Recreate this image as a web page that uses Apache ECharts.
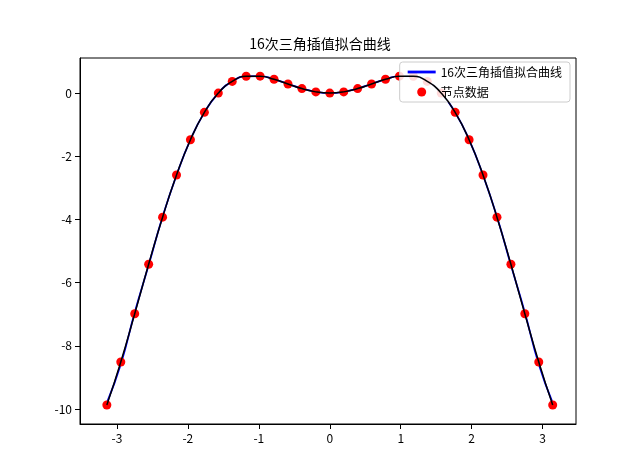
<!DOCTYPE html><html><head><meta charset="utf-8"><script src="https://cdn.jsdelivr.net/npm/echarts@6/dist/echarts.min.js"></script></head><body style="margin:0"><div id="c" style="width:640px;height:476px"></div><script>
const xs=[-3.1416,-2.9452,-2.7489,-2.5525,-2.3562,-2.1598,-1.9635,-1.7671,-1.5708,-1.3744,-1.1781,-0.9817,-0.7854,-0.5890,-0.3927,-0.1963,0,0.1963,0.3927,0.5890,0.7854,0.9817,1.1781,1.3744,1.5708,1.7671,1.9635,2.1598,2.3562,2.5525,2.7489,2.9452,3.1416];
const nodeY=[-9.870,-8.507,-6.981,-5.417,-3.926,-2.592,-1.475,-0.609,0,0.369,0.531,0.535,0.436,0.289,0.142,0.038,0,0.038,0.142,0.289,0.436,0.535,0.531,0.369,0,-0.609,-1.475,-2.592,-3.926,-5.417,-6.981,-8.507,-9.870];
const fitY=[-9.80,-8.58,-6.94,-5.44,-3.91,-2.60,-1.47,-0.61,0,0.37,0.53,0.535,0.436,0.289,0.142,0.038,0,0.038,0.142,0.289,0.436,0.535,0.53,0.37,0,-0.61,-1.47,-2.60,-3.91,-5.44,-6.94,-8.58,-9.80];
const pair=(a,b)=>a.map((v,i)=>[v,b[i]]);
const f='Noto Sans CJK SC';
echarts.init(document.getElementById('c')).setOption({
animation:false,textStyle:{fontFamily:f},
title:{text:'16次三角插值拟合曲线',left:'center',top:32,textStyle:{fontSize:14,fontWeight:'normal',color:'#000',fontFamily:f}},
grid:{left:80,right:64,top:58,bottom:52,show:true,borderColor:'#000',borderWidth:1},
legend:{top:62,right:70,orient:'vertical',itemGap:8,backgroundColor:'rgba(255,255,255,0.85)',borderColor:'#ccc',borderWidth:1,borderRadius:3,padding:[4,8],textStyle:{fontSize:12,color:'#000'},
 data:[{name:'16次三角插值拟合曲线',icon:'path://M0,0H30V3H0Z',itemStyle:{color:'blue'}},{name:'节点数据',icon:'circle'}],itemWidth:28,itemHeight:9},
xAxis:{type:'value',min:-3.52,max:3.47,splitNumber:7,splitLine:{show:false},axisLine:{onZero:false,lineStyle:{color:'#000'}},axisTick:{lineStyle:{color:'#000'}},axisLabel:{color:'#000',fontSize:12,showMinLabel:false,showMaxLabel:false}},
yAxis:{type:'value',min:-10.47,max:1.11,splitNumber:6,splitLine:{show:false},axisLine:{show:true,onZero:false,lineStyle:{color:'#000'}},axisTick:{show:true,lineStyle:{color:'#000'}},axisLabel:{color:'#000',fontSize:12,showMinLabel:false,showMaxLabel:false}},
series:[
{name:'16次三角插值拟合曲线',type:'line',smooth:true,showSymbol:false,data:pair(xs,fitY),lineStyle:{color:'blue',width:1.8},itemStyle:{color:'blue'},z:2},
{name:'节点数据',type:'scatter',data:pair(xs,nodeY),symbolSize:9,itemStyle:{color:'red',opacity:1},z:3},
{name:'true',type:'line',smooth:true,showSymbol:false,data:pair(xs,nodeY),lineStyle:{color:'#000',width:1.5},z:4}
]});
</script></body></html>
